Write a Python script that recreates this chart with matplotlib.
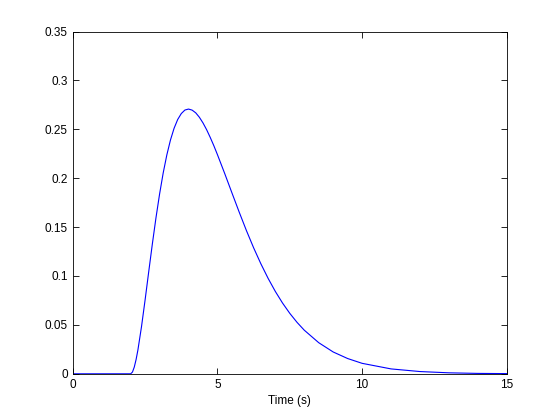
import matplotlib
matplotlib.use('Agg')
import matplotlib.pyplot as plt

plt.rcParams['font.family'] = ['Liberation Sans', 'DejaVu Sans']

# values
time_s = [0, 1, 2, 2.0625, 2.125, 2.1875, 2.25, 2.375, 2.5, 2.625, 2.75, 2.875,
          3, 3.125, 3.25, 3.375, 3.5, 3.625, 3.75, 3.875, 4, 4.125, 4.25,
          4.375, 4.5, 4.625, 4.75, 4.875, 5, 5.25, 5.5, 5.75, 6, 6.25, 6.5,
          6.75, 7, 7.25, 7.5, 7.75, 8, 8.5, 9, 9.5, 10, 11, 12, 13, 14, 15]
response = [0, 0, 0, 0.0018, 0.0069, 0.0146, 0.0243, 0.0483, 0.0758, 0.1046,
            0.1329, 0.1596, 0.1839, 0.2055, 0.2238, 0.2390, 0.2510, 0.2600,
            0.2661, 0.2697, 0.2707, 0.2696, 0.2668, 0.2623, 0.2565, 0.2496,
            0.2417, 0.2332, 0.2240, 0.2048, 0.1850, 0.1654, 0.1465, 0.1288,
            0.1125, 0.0976, 0.0842, 0.0723, 0.0618, 0.0526, 0.0446, 0.0318,
            0.0223, 0.0156, 0.0107, 0.0050, 0.0023, 0.0010, 0.0004, 0.0002]

x_ticks = [0, 5, 10, 15]
y_ticks = [0, 0.05, 0.1, 0.15, 0.2, 0.25, 0.3, 0.35]
y_labels = ['0', '0.05', '0.1', '0.15', '0.2', '0.25', '0.3', '0.35']

fig = plt.figure(figsize=(5.6, 4.2), dpi=100)
ax = fig.add_axes([0.13, 0.11, 0.775, 0.815])

ax.plot(time_s, response, color='#0000ff', linewidth=0.8)

ax.set_xlim(0, 15)
ax.set_ylim(0, 0.35)
ax.set_xticks(x_ticks)
ax.set_xticklabels([str(t) for t in x_ticks])
ax.set_yticks(y_ticks)
ax.set_yticklabels(y_labels)
ax.tick_params(direction='in', length=4, width=0.6, labelsize=8.5, top=True, right=True,
               labeltop=False, labelright=False)
for s in ax.spines.values():
    s.set_linewidth(0.6)
ax.set_xlabel('Time (s)', fontsize=8.5, labelpad=3)

fig.savefig('out.png', dpi=100)
